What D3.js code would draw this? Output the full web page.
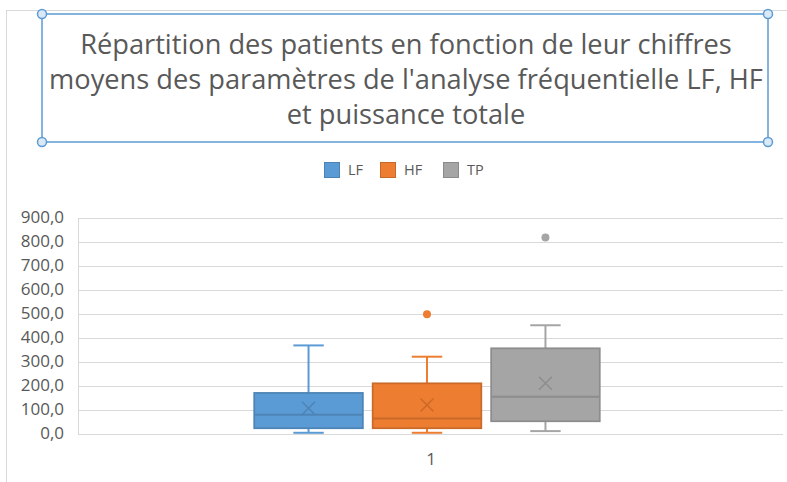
<!DOCTYPE html>
<html>
<head>
<meta charset="utf-8">
<script src="https://cdn.jsdelivr.net/npm/d3@7"></script>
<style>
	body { margin: 0; background: #fff; }
	svg { display: block; }
	text { font-family: 'Open Sans', sans-serif; fill: #595959; }
</style>
</head>
<body>
<svg id="chart" width="787" height="482"></svg>
<script>
// data
const titleLines = [
	"Répartition des patients en fonction de leur chiffres",
	"moyens des paramètres de l'analyse fréquentielle LF, HF",
	"et puissance totale"
];
const categories = ['1'];
const seriesNames = ['LF', 'HF', 'TP'];
const seriesColors = ['#5b9bd5', '#ed7d31', '#a5a5a5'];
const whiskerLow = [3, 3, 10];
const q1 = [22, 22, 51];
const median = [78, 63, 153];
const q3 = [169, 209, 355];
const whiskerHigh = [367, 320, 451];
const mean = [105, 119, 209];
const outliers = [[], [497], [817]];
const yTicks = [0, 100, 200, 300, 400, 500, 600, 700, 800, 900];

const svg = d3.select('#chart');
const W = 787, H = 482;

// outer chart frame (only left/top visible)
svg.append('rect')
	.attr('x', 6.5).attr('y', 10.5)
	.attr('width', W + 20).attr('height', H + 20)
	.attr('fill', 'none').attr('stroke', '#d9d9d9');

// title box (selected)
const tb = { x: 42, y: 14, w: 726, h: 128 };
svg.append('rect')
	.attr('x', tb.x).attr('y', tb.y)
	.attr('width', tb.w).attr('height', tb.h)
	.attr('fill', 'none').attr('stroke', '#5b9bd5').attr('stroke-width', 1.5);
[[tb.x, tb.y], [tb.x + tb.w, tb.y], [tb.x, tb.y + tb.h], [tb.x + tb.w, tb.y + tb.h]].forEach((p) => {
	svg.append('circle')
		.attr('cx', p[0]).attr('cy', p[1]).attr('r', 4.5)
		.attr('fill', '#dbe8f5').attr('stroke', '#5b9bd5').attr('stroke-width', 1.5);
});

const title = svg.append('text')
	.attr('text-anchor', 'middle')
	.style('font-size', '24px');
titleLines.forEach((t, i) => {
	title.append('tspan')
		.attr('x', 406)
		.attr('y', 54 + i * 35)
		.text(t);
});
// fit the widest line to the box like the reference
const l2 = title.selectAll('tspan').nodes()[1].getComputedTextLength();
title.style('font-size', (24 * 714 / l2) + 'px');

// legend
const legendX = [324, 380, 443];
seriesNames.forEach((s, i) => {
	const g = svg.append('g').attr('transform', 'translate(' + legendX[i] + ',162)');
	g.append('rect')
		.attr('x', 0.5).attr('y', 0.5).attr('width', 15).attr('height', 15)
		.attr('fill', seriesColors[i])
		.attr('stroke', d3.color(seriesColors[i]).darker(0.5));
	g.append('text')
		.attr('x', 24).attr('y', 13)
		.style('font-size', '14.5px')
		.text(s);
});

// scales
const plot = { left: 78, right: 783, top: 217.5, bottom: 433.5 };
const y = d3.scaleLinear([0, 900], [plot.bottom, plot.top]);
const x0 = d3.scaleBand(categories, [plot.left, plot.right - 7]).paddingOuter(0.51);
const x1 = d3.scaleBand(seriesNames, [0, x0.bandwidth()]).paddingInner(0.083);

// gridlines
svg.append('g')
	.selectAll('line')
	.data(yTicks)
	.join('line')
	.attr('x1', plot.left).attr('x2', plot.right)
	.attr('y1', (d) => Math.round(y(d)) + 0.5)
	.attr('y2', (d) => Math.round(y(d)) + 0.5)
	.attr('stroke', '#d9d9d9');
svg.append('line')
	.attr('x1', plot.left + 0.5).attr('x2', plot.left + 0.5)
	.attr('y1', Math.round(y(900)) + 0.5).attr('y2', Math.round(y(0)) + 0.5)
	.attr('stroke', '#d9d9d9');

// y axis labels
const yAxis = svg.append('g')
	.attr('transform', 'translate(' + (plot.left - 14) + ',0)')
	.call(d3.axisLeft(y).tickValues(yTicks).tickSize(0).tickPadding(0)
		.tickFormat((d) => d3.format('.1f')(d).replace('.', ',')));
yAxis.select('.domain').remove();
yAxis.selectAll('text')
	.style('font-size', '17px')
	.style('font-family', "'Open Sans', sans-serif")
	.attr('fill', '#595959');

// x axis label
const xAxis = svg.append('g')
	.attr('transform', 'translate(4,' + (plot.bottom + 19) + ')')
	.call(d3.axisBottom(x0).tickSize(0).tickPadding(0));
xAxis.select('.domain').remove();
xAxis.selectAll('text')
	.style('font-size', '17px')
	.style('font-family', "'Open Sans', sans-serif")
	.attr('fill', '#595959');

// boxes
categories.forEach((c) => {
	seriesNames.forEach((s, i) => {
		const col = seriesColors[i];
		const dark = d3.color(col).darker(0.45).formatHex();
		const bx = x0(c) + x1(s);
		const bw = x1.bandwidth();
		const cx = bx + bw / 2;
		const capW = bw * 0.28;
		const g = svg.append('g');

		// whiskers
		g.append('line')
			.attr('x1', cx).attr('x2', cx)
			.attr('y1', y(q3[i])).attr('y2', y(whiskerHigh[i]))
			.attr('stroke', col).attr('stroke-width', 2);
		g.append('line')
			.attr('x1', cx).attr('x2', cx)
			.attr('y1', y(q1[i])).attr('y2', y(whiskerLow[i]))
			.attr('stroke', col).attr('stroke-width', 2);
		[whiskerHigh[i], whiskerLow[i]].forEach((v) => {
			g.append('line')
				.attr('x1', cx - capW / 2).attr('x2', cx + capW / 2)
				.attr('y1', y(v)).attr('y2', y(v))
				.attr('stroke', col).attr('stroke-width', 2);
		});

		// box
		g.append('rect')
			.attr('x', bx).attr('y', y(q3[i]))
			.attr('width', bw).attr('height', y(q1[i]) - y(q3[i]))
			.attr('fill', col).attr('stroke', dark).attr('stroke-width', 1.75);
		g.append('line')
			.attr('x1', bx).attr('x2', bx + bw)
			.attr('y1', y(median[i])).attr('y2', y(median[i]))
			.attr('stroke', dark).attr('stroke-width', 2);

		// mean marker
		const my = y(mean[i]), m = 6.5;
		g.append('path')
			.attr('d', 'M' + (cx - m) + ',' + (my - m) + 'L' + (cx + m) + ',' + (my + m) +
				'M' + (cx - m) + ',' + (my + m) + 'L' + (cx + m) + ',' + (my - m))
			.attr('stroke', dark).attr('stroke-width', 1.5).attr('fill', 'none');

		// outliers
		g.selectAll('circle.out')
			.data(outliers[i])
			.join('circle')
			.attr('class', 'out')
			.attr('cx', cx).attr('cy', (d) => y(d)).attr('r', 4)
			.attr('fill', col);
	});
});
</script>
</body>
</html>
